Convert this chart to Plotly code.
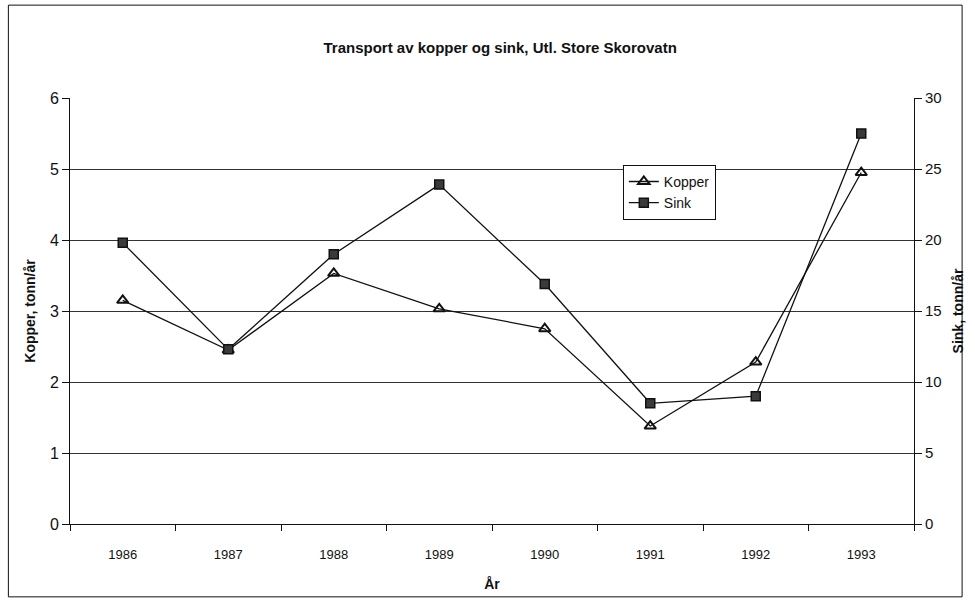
import plotly.graph_objects as go

# Annual transport from the Store Skorovatn outlet
years = ["1986", "1987", "1988", "1989", "1990", "1991", "1992", "1993"]
kopper = [3.15, 2.45, 3.53, 3.03, 2.75, 1.38, 2.28, 4.95]   # tonn/år, left axis
sink = [19.8, 12.3, 19.0, 23.9, 16.9, 8.5, 9.0, 27.5]        # tonn/år, right axis

left_ticks = [0, 1, 2, 3, 4, 5, 6]
right_ticks = [0, 5, 10, 15, 20, 25, 30]

FONT = "Liberation Sans"
INK = "#111111"

fig = go.Figure()

fig.add_trace(go.Scatter(
    x=years, y=kopper, name="Kopper", mode="lines+markers",
    line=dict(color=INK, width=1.3),
    marker=dict(symbol="triangle-up-open", size=10, color=INK,
                line=dict(width=2, color=INK)),
    yaxis="y",
))
fig.add_trace(go.Scatter(
    x=years, y=sink, name="Sink", mode="lines+markers",
    line=dict(color=INK, width=1.3),
    marker=dict(symbol="square", size=9, color="#3a3a3a",
                line=dict(width=1.5, color=INK)),
    yaxis="y2",
))

fig.update_layout(
    width=975, height=603,
    margin=dict(l=70, r=55, t=98, b=79),
    paper_bgcolor="white", plot_bgcolor="white",
    font=dict(family=FONT, color=INK, size=14),
    showlegend=True,
    title=dict(
        text="<b>Transport av kopper og sink, Utl. Store Skorovatn</b>",
        x=0.513, xanchor="center", y=1 - 48 / 603, yanchor="middle",
        font=dict(size=15, family=FONT, color=INK),
    ),
    xaxis=dict(
        type="category", categoryorder="array", categoryarray=years,
        range=[-0.5, len(years) - 0.5],
        tickson="boundaries", ticks="outside", ticklen=6, tickcolor=INK,
        ticklabelstandoff=18,
        showline=True, linecolor=INK, linewidth=1, mirror=False,
        showgrid=False, zeroline=False,
        tickfont=dict(size=13, family=FONT),
        title=dict(text="<b>År</b>", font=dict(size=14), standoff=18),
    ),
    yaxis=dict(
        range=[0, 6], tickvals=left_ticks,
        ticks="outside", ticklen=7, tickcolor=INK,
        showline=True, linecolor=INK, linewidth=1,
        showgrid=True, gridcolor="#333333", gridwidth=1, zeroline=False,
        tickfont=dict(size=16, family=FONT),
        title=dict(text="<b>Kopper, tonn/år</b>", font=dict(size=14), standoff=10),
    ),
    yaxis2=dict(
        range=[0, 30], tickvals=right_ticks,
        overlaying="y", side="right",
        ticks="outside", ticklen=7, tickcolor=INK,
        showline=True, linecolor=INK, linewidth=1,
        showgrid=False, zeroline=False,
        tickfont=dict(size=15, family=FONT),
        title=dict(text="<b>Sink, tonn/år</b>", font=dict(size=14), standoff=12),
    ),
    legend=dict(
        x=0.655, y=0.843, xanchor="left", yanchor="top",
        bgcolor="white", bordercolor=INK, borderwidth=1,
        font=dict(size=14, family=FONT),
        itemwidth=30, tracegroupgap=0,
    ),
    shapes=[dict(
        type="rect", xref="paper", yref="paper",
        x0=-0.073, x1=1.057, y0=-0.171, y1=1.218,
        line=dict(color=INK, width=1), fillcolor="rgba(0,0,0,0)",
        layer="below",
    )],
)

fig.write_html("out.html")
